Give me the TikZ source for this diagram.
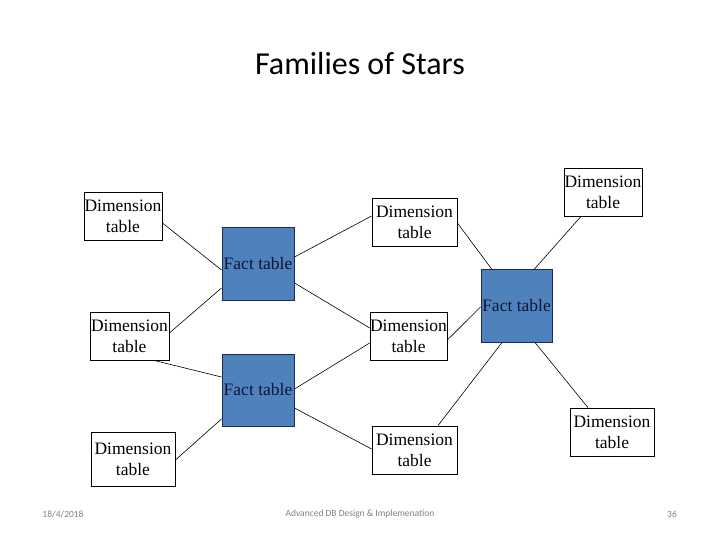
\documentclass[tikz,border=0pt]{standalone}
\usepackage{fontspec}
\setmainfont{Liberation Serif}
\newfontfamily\titlefont{Carlito}
\usetikzlibrary{calc}
\definecolor{factblue}{HTML}{4F81BD}
\definecolor{factedge}{HTML}{1C2B4F}
\definecolor{facttext}{HTML}{0E1636}
\definecolor{footgray}{HTML}{808080}
\tikzset{
  dimbox/.style={draw=black, line width=0.8bp, fill=white, inner sep=0pt, minimum height=48bp,
    align=center, font=\fontsize{17.5bp}{21bp}\selectfont},
  factbox/.style={draw=factedge, line width=1bp, fill=factblue, inner sep=0pt, minimum width=72bp, minimum height=72bp,
    text=facttext, font=\fontsize{17.5bp}{21bp}\selectfont},
  link/.style={draw=black, line width=0.6bp},
  foot/.style={text=footgray, font=\titlefont\fontsize{9.5bp}{11bp}\selectfont, inner sep=0pt}
}
\begin{document}
\begin{tikzpicture}[x=1bp, y=-1bp]
\useasboundingbox (0,0) rectangle (720,540);
\node[font=\titlefont\fontsize{32bp}{36bp}\selectfont, inner sep=0pt] (title) at (360,64) {Families of Stars};

\node[factbox] (F1) at (258,264) {Fact table};
\node[factbox, minimum width=71bp] (F2) at (516.5,306) {Fact table};
\node[factbox] (F3) at (258,390) {Fact table};

\node[dimbox, minimum width=78bp] (D1) at (123,216) {Dimension\\table};
\node[dimbox, minimum width=85bp] (D2) at (414.5,222) {Dimension\\table};
\node[dimbox, minimum width=78bp] (D3) at (603,192) {Dimension\\table};
\node[dimbox, minimum width=79bp] (D4) at (129.5,336) {Dimension\\table};
\node[dimbox, minimum width=73bp] (D5) at (408.5,336) {Dimension\\table};
\node[dimbox, minimum width=84bp, minimum height=54bp] (D6) at (133,459) {Dimension\\table};
\node[dimbox, minimum width=85bp] (D7) at (414.5,450) {Dimension\\table};
\node[dimbox, minimum width=84bp] (D8) at (612,432) {Dimension\\table};

\draw[link] ($(D1.east)+(0,7)$) -- ($(F1.west)+(0,6)$);
\draw[link] ($(F1.east)+(0,-7)$) -- ($(D2.west)+(0,-6)$);
\draw[link] ($(F1.east)+(0,19)$) -- ($(D5.west)+(0,-8)$);
\draw[link] ($(D4.east)+(0,-3)$) -- ($(F1.west)+(0,24)$);
\draw[link] ($(D4.south)+(24.5,0)$) -- ($(F3.west)+(0,-13)$);
\draw[link] ($(F3.east)+(0,-1)$) -- ($(D5.west)+(0,7)$);
\draw[link] ($(D5.east)+(0,4)$) -- ($(F2.west)+(0,1)$);
\draw[link] ($(D2.east)+(0,1)$) -- ($(F2.north)+(-24.5,0)$);
\draw[link] ($(D3.south)+(-22,0)$) -- ($(F2.north)+(17.5,0)$);
\draw[link] ($(F2.south)+(-14.5,0)$) -- ($(D7.north)+(23.5,0)$);
\draw[link] ($(F2.south)+(18.5,0)$) -- ($(D8.north)+(-24,0)$);
\draw[link] ($(F3.west)+(0,29)$) -- ($(D6.east)+(0,1)$);
\draw[link] ($(F3.east)+(0,18)$) -- ($(D7.west)+(0,-1)$);

\node[foot] (date) at (63,514) {18/4/2018};
\node[foot] (course) at (360,514) {Advanced DB Design \& Implemenation};
\node[foot] (page) at (672,514) {36};
\end{tikzpicture}
\end{document}
